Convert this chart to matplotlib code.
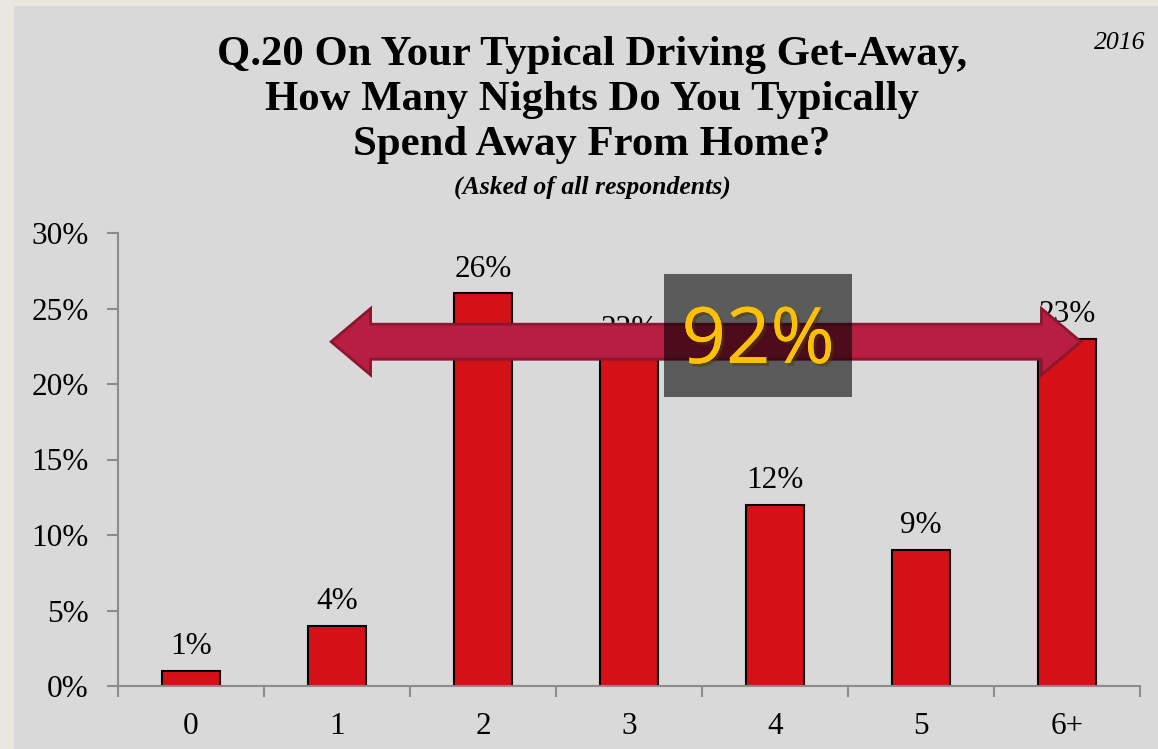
import matplotlib
matplotlib.use('Agg')

import numpy as np
import matplotlib.pyplot as plt
from matplotlib.patches import Rectangle, Polygon
import matplotlib.patheffects as pe

nights = ['0', '1', '2', '3', '4', '5', '6+']
share = [1, 4, 26, 22, 12, 9, 23]
yticks = [0, 5, 10, 15, 20, 25, 30]
callout = '92%'

serif = 'Liberation Serif'
fs = 22.5

fig = plt.figure(figsize=(11.58, 7.49), dpi=100)
fig.patch.set_facecolor('#eae7e2')
# slide background panel
fig.add_artist(Rectangle((14 / 1158, 0), 1, 1 - 6 / 749, transform=fig.transFigure,
                         facecolor='#d9d9d9', edgecolor='none', zorder=-5))

ax = fig.add_axes([118 / 1158, 1 - 686 / 749, (1140 - 118) / 1158, (686 - 233) / 749])
ax.set_facecolor('none')
ax.set_zorder(2)

x = np.arange(len(nights))
bars = ax.bar(x, share, width=0.4, color='#d51118', edgecolor='black', linewidth=1.5, zorder=2)
for xi, v in zip(x, share):
    ax.annotate(f'{v}%', (xi, v), xytext=(0, 12), textcoords='offset points',
                ha='center', va='baseline', fontsize=fs, family=serif, zorder=3)

ax.set_xlim(-0.5, len(nights) - 0.5)
ax.set_ylim(0, 30)
ax.set_yticks(yticks)
ax.set_yticklabels([f'{t}%' for t in yticks], fontsize=fs, family=serif)
ax.set_xticks(x)
ax.set_xticklabels(nights, fontsize=fs, family=serif)
ax.set_xticks(np.arange(-0.5, len(nights)), minor=True)
ax.tick_params(axis='x', which='major', length=0, pad=19)
ax.tick_params(axis='x', which='minor', length=8, color='#8c8c8c', width=1.5, direction='out')
ax.tick_params(axis='y', length=8, color='#8c8c8c', width=1.5, pad=13)
for s in ['top', 'right']:
    ax.spines[s].set_visible(False)
for s in ['left', 'bottom']:
    ax.spines[s].set_color('#8c8c8c')
    ax.spines[s].set_linewidth(1.5)

# double-headed arrow spanning 2+ nights
xl, xr = 0.96, 6.095
yc, sh, hh, hl = 22.8, 1.16, 2.2, 0.27
pts = [(xl, yc), (xl + hl, yc + hh), (xl + hl, yc + sh), (xr - hl, yc + sh),
       (xr - hl, yc + hh), (xr, yc), (xr - hl, yc - hh), (xr - hl, yc - sh),
       (xl + hl, yc - sh), (xl + hl, yc - hh)]
ax.add_patch(Polygon(pts, closed=True, facecolor='#b81e42', edgecolor='#8a1630',
                     linewidth=2, zorder=4, clip_on=False))

# dark callout box
ax.add_patch(Rectangle((3.24, 19.14), 1.29, 8.14, facecolor='black', alpha=0.58,
                       edgecolor='none', zorder=5, clip_on=False))
ax.text(3.885, 22.75, callout, ha='center', va='center', fontsize=56, color='#ffc000',
        family='Open Sans', zorder=6,
        path_effects=[pe.withSimplePatchShadow(offset=(2, -2), alpha=0.5), pe.Normal()])

cx = 592 / 1158
fig.text(cx, 1 - 55 / 749, 'Q.20 On Your Typical Driving Get-Away,',
         ha='center', va='center', fontsize=30.8, weight='bold', family=serif)
fig.text(cx, 1 - 100 / 749, 'How Many Nights Do You Typically',
         ha='center', va='center', fontsize=30.8, weight='bold', family=serif)
fig.text(cx, 1 - 145 / 749, 'Spend Away From Home?',
         ha='center', va='center', fontsize=30.8, weight='bold', family=serif)
fig.text(cx, 1 - 187 / 749, '(Asked of all respondents)',
         ha='center', va='center', fontsize=18.5, weight='bold', style='italic', family=serif)
fig.text(1120 / 1158, 1 - 43 / 749, '2016', ha='center', va='center', fontsize=18.5,
         style='italic', family=serif)

fig.savefig('out.png', dpi=100, facecolor=fig.get_facecolor())
